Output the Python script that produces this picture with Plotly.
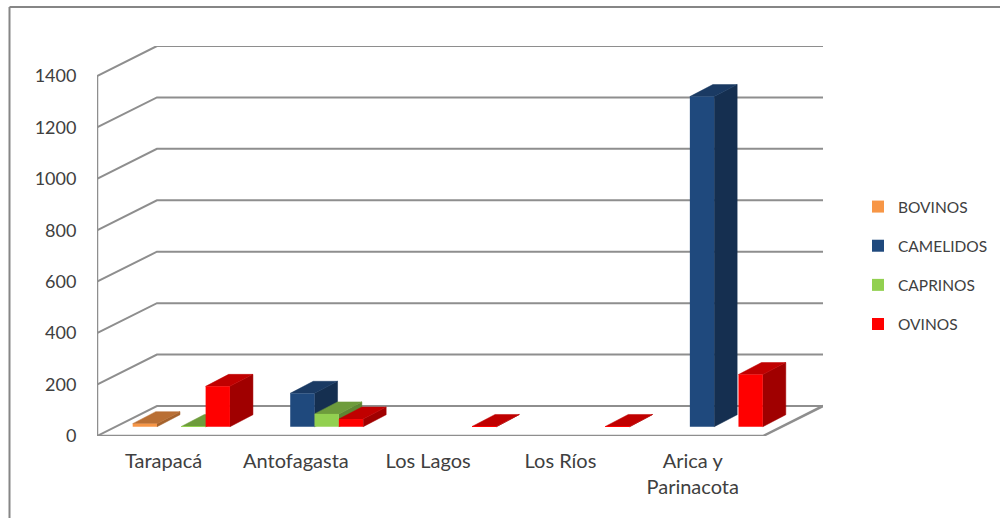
import plotly.graph_objects as go

# ---- data ----
categories = ["Tarapacá", "Antofagasta", "Los Lagos", "Los Ríos", "Arica y<br>Parinacota"]
bovinos = [12, None, None, None, None]
camelidos = [None, 130, None, None, 1284]
caprinos = [1, 50, None, None, None]
ovinos = [157, 30, 1, 1, 203]
series_names = ["BOVINOS", "CAMELIDOS", "CAPRINOS", "OVINOS"]
y_ticks = [0, 200, 400, 600, 800, 1000, 1200, 1400]

# ---- styles: front, top, side ----
front_colors = ["#F79646", "#1F497D", "#92D050", "#FF0000"]
top_colors = ["#B96F34", "#1A3A63", "#6E9C3C", "#C00000"]
side_colors = ["#A5622C", "#152F50", "#5F8733", "#A00000"]
GRID = "#8E8E8E"
TEXT = "#404040"

# ---- pseudo-3D projection, in axis units ----
X_MAX = 5.45          # front wall spans 0..5, rest is wall depth
Y_MAX = 1516.7        # front wall spans 0..1400, rest is wall depth
WALL_DX = 0.45
WALL_DY = 116.7
FLOOR_DX = 0.133      # bars stand partly into the floor
FLOOR_DY = 36
BAR_W = 0.1825
BAR_DX = 0.1727
BAR_DY = 46.7
LABEL_STEP = 0.993    # category labels sit slightly tighter than the bars

fig = go.Figure()


def line(xs, ys, width=2):
    fig.add_trace(go.Scatter(x=xs, y=ys, mode="lines", showlegend=False, hoverinfo="skip",
                             line=dict(color=GRID, width=width)))


def poly(xs, ys, color):
    fig.add_trace(go.Scatter(x=xs + xs[:1], y=ys + ys[:1], mode="lines", fill="toself",
                             fillcolor=color, line=dict(color=color, width=0.5),
                             showlegend=False, hoverinfo="skip"))


# walls and floor
for v in y_ticks:
    line([0, WALL_DX, X_MAX], [v, v + WALL_DY, v + WALL_DY])
line([0, 0], [0, y_ticks[-1]], 2.5)
line([0, 5, X_MAX], [0, 0, WALL_DY], 2.5)

all_series = [bovinos, camelidos, caprinos, ovinos]


def bar_left(i, s):
    return i + 0.5 + FLOOR_DX + (s - 2) * BAR_W


# top and side faces, left to right so later bars cover earlier ones
for i in range(len(categories)):
    for s, vals in enumerate(all_series):
        v = vals[i]
        if v is None:
            continue
        l = bar_left(i, s)
        r = l + BAR_W
        t = v + FLOOR_DY
        poly([r, r + BAR_DX, r + BAR_DX, r],
             [FLOOR_DY, FLOOR_DY + BAR_DY, t + BAR_DY, t], side_colors[s])
        poly([l, r, r + BAR_DX, l + BAR_DX],
             [t, t, t + BAR_DY, t + BAR_DY], top_colors[s])

# front faces, on an overlay so they sit above every top and side
for s, vals in enumerate(all_series):
    fig.add_trace(go.Bar(
        name=series_names[s],
        x=[bar_left(i, s) + BAR_W / 2 for i in range(len(categories))],
        y=vals, base=FLOOR_DY, width=BAR_W,
        marker=dict(color=front_colors[s], line=dict(width=0)),
        xaxis="x2", yaxis="y2", legendgroup=series_names[s],
    ))

font = dict(family="Lato, Carlito, sans-serif", color=TEXT)

fig.update_layout(
    width=1000, height=518,
    margin=dict(l=97, r=177, t=46, b=82, autoexpand=False),
    paper_bgcolor="white", plot_bgcolor="white",
    barmode="overlay",
    xaxis=dict(range=[0, X_MAX], showgrid=False, zeroline=False, showline=False,
               tickmode="array",
               tickvals=[i * LABEL_STEP + 0.5 for i in range(len(categories))],
               ticktext=categories, ticks="outside", ticklen=7, tickcolor="rgba(0,0,0,0)",
               tickfont=dict(size=20, **font)),
    yaxis=dict(range=[0, Y_MAX], showgrid=False, zeroline=False, showline=False,
               tickmode="array", tickvals=y_ticks, ticks="outside", ticklen=16,
               tickcolor="rgba(0,0,0,0)", tickfont=dict(size=18, **font)),
    xaxis2=dict(range=[0, X_MAX], overlaying="x", visible=False),
    yaxis2=dict(range=[0, Y_MAX], overlaying="y", visible=False),
    legend=dict(x=(858 - 97) / 726, y=1 - (190 - 46) / 390, xanchor="left", yanchor="top",
                font=dict(size=15.5, **font), tracegroupgap=16, bgcolor="rgba(0,0,0,0)",
                itemclick=False, itemdoubleclick=False),
    shapes=[
        dict(type="line", xref="paper", yref="paper",
             x0=(9.5 - 97) / 726, x1=(9.5 - 97) / 726,
             y0=1 + (46 - 7) / 390, y1=1 - (520 - 46) / 390,
             line=dict(color="#868686", width=2)),
        dict(type="line", xref="paper", yref="paper",
             x0=(9.5 - 97) / 726, x1=(1002 - 97) / 726,
             y0=1 + (46 - 7) / 390, y1=1 + (46 - 7) / 390,
             line=dict(color="#868686", width=2)),
    ],
)

fig.write_html("out.html", config={"displayModeBar": False},
               post_script="document.body.style.margin='0';")
